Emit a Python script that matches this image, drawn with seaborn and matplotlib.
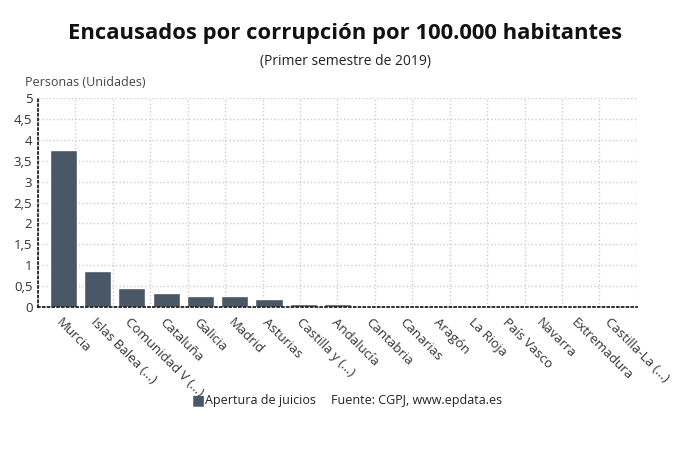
import numpy as np
import pandas as pd
import seaborn as sns
from matplotlib import pyplot as plt
from matplotlib.ticker import FuncFormatter

# datos (encausados por 100.000 hab.)
comunidades = ['Murcia', 'Islas Balea (...)', 'Comunidad V (...)', 'Cataluña', 'Galicia',
               'Madrid', 'Asturias', 'Castilla y (...)', 'Andalucía', 'Cantabria',
               'Canarias', 'Aragón', 'La Rioja', 'País Vasco', 'Navarra',
               'Extremadura', 'Castilla-La (...)']
apertura = [3.75, 0.86, 0.45, 0.33, 0.26, 0.26, 0.19, 0.08, 0.06, 0, 0, 0, 0, 0, 0, 0, 0]
yticks = [0, 0.5, 1, 1.5, 2, 2.5, 3, 3.5, 4, 4.5, 5]

sns.set_style('white')
plt.rcParams['font.family'] = ['Open Sans', 'DejaVu Sans']

df = pd.DataFrame({'comunidad': comunidades, 'valor': apertura})

fig = plt.figure(figsize=(6.9, 4.65), dpi=100)
ax = fig.add_axes([0.055, 0.34, 0.868, 0.449])

barcolor = '#4a5767'
sns.barplot(data=df, x='comunidad', y='valor', color=barcolor, width=0.79,
            saturation=1, ax=ax)

xlim = (-0.74, 16.73)
ax.set_xlim(xlim)
ax.set_ylim(0, 5)
ax.set_yticks(yticks)
ax.yaxis.set_major_formatter(FuncFormatter(lambda v, p: f'{v:g}'.replace('.', ',')))

# rejilla vertical independiente de las categorias
ax.set_xticks(np.linspace(xlim[0], xlim[1], 17), minor=True)
ax.grid(True, which='minor', axis='x', color='#cfcbd6', linestyle=':', linewidth=1)
ax.grid(True, which='major', axis='y', color='#cfcbd6', linestyle=':', linewidth=1)
ax.tick_params(axis='x', which='minor', length=0)
ax.set_axisbelow(True)

for side in ['top', 'right']:
    ax.spines[side].set_visible(False)
for side in ['left', 'bottom']:
    ax.spines[side].set_linestyle(':')
    ax.spines[side].set_color('#222222')
    ax.spines[side].set_linewidth(1.3)

ax.tick_params(axis='both', which='major', length=3, width=1, color='#222222',
               labelsize=9.5, labelcolor='#333333')
ax.tick_params(axis='y', pad=1)
plt.setp(ax.get_xticklabels(), rotation=-45, ha='left', rotation_mode='anchor')
ax.set_xlabel('')
ax.set_ylabel('')

fig.text(0.5, 0.928, 'Encausados por corrupción por 100.000 habitantes',
         ha='center', va='center', fontsize=15.8, fontweight='bold', color='#111111')
fig.text(0.5, 0.868, '(Primer semestre de 2019)', ha='center', va='center',
         fontsize=10, color='#222222')
fig.text(0.036, 0.823, 'Personas (Unidades)', ha='left', va='center',
         fontsize=9, color='#444444')

# leyenda y fuente
fig.text(0.278, 0.139, '■', ha='left', va='center', fontsize=10, color=barcolor,
         family=['DejaVu Sans'])
fig.text(0.297, 0.139, 'Apertura de juicios', ha='left', va='center', fontsize=9,
         color='#222222')
fig.text(0.48, 0.139, 'Fuente: CGPJ, www.epdata.es', ha='left', va='center',
         fontsize=9, color='#222222')

fig.savefig('out.png', dpi=100, facecolor='white')
